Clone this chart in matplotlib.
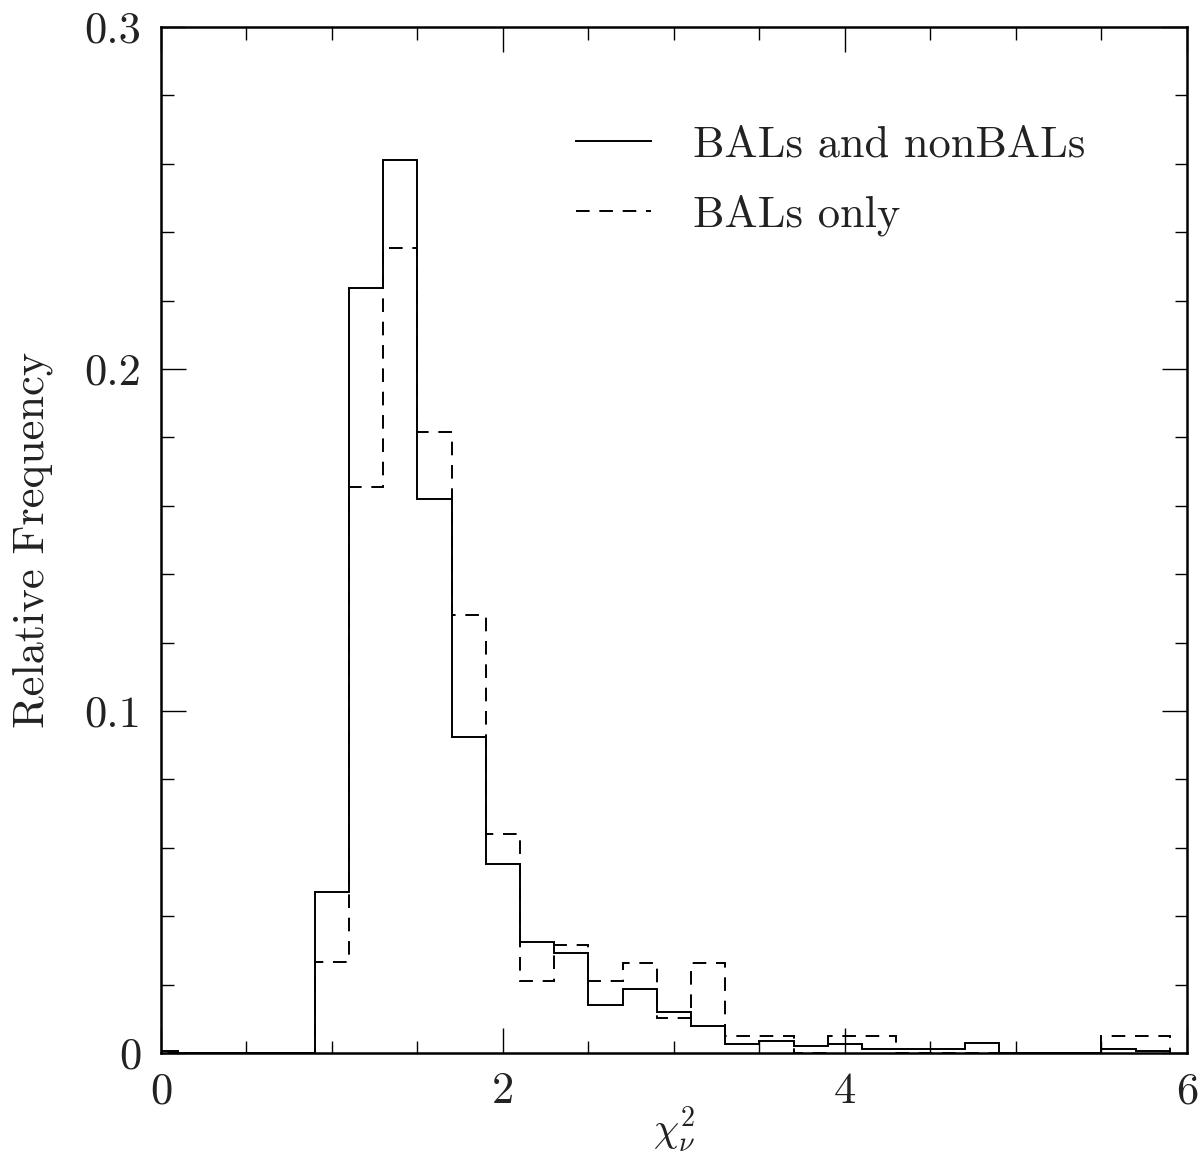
import matplotlib
matplotlib.use('Agg')
import matplotlib.pyplot as plt
import numpy as np

plt.rcParams['font.family'] = 'cmr10'
plt.rcParams['mathtext.fontset'] = 'cm'
plt.rcParams['axes.formatter.use_mathtext'] = True

# bins of width 0.2, from -0.1 to 5.9
bin_edges = np.round(np.arange(-0.1, 5.95, 0.2), 2)

all_qso = [0.0005, 0, 0, 0, 0, 0.047, 0.2237, 0.261, 0.162, 0.0924,
           0.0553, 0.0323, 0.0293, 0.0140, 0.0187, 0.0119, 0.0079, 0.0026, 0.0034, 0.0020,
           0.0027, 0.0012, 0.0011, 0.0011, 0.0028, 0, 0, 0, 0.0011, 0.0005]
bal_only = [0, 0, 0, 0, 0, 0.0266, 0.1656, 0.2353, 0.1817, 0.1282,
            0.0639, 0.0211, 0.0317, 0.0211, 0.0264, 0.0103, 0.0264, 0.005, 0.005, 0,
            0.005, 0.005, 0, 0, 0, 0, 0, 0, 0.005, 0.005]

xticks = [0, 2, 4, 6]
xticklabels = ['0', '2', '4', '6']
yticks = [0, 0.1, 0.2, 0.3]
yticklabels = ['0', '0.1', '0.2', '0.3']

txt = '#222222'
fs = 32

fig = plt.figure(figsize=(12.03, 11.59), dpi=100)
ax = fig.add_axes([0.1338, 0.0915, 0.8529, 0.8852])

ax.stairs(all_qso, bin_edges, color='black', lw=1.4, label='BALs and nonBALs')
ax.stairs(bal_only, bin_edges, color='black', lw=1.4, linestyle=(0, (7, 5)),
          label='BALs only')

ax.set_xlim(0, 6)
ax.set_ylim(0, 0.3)
ax.set_xticks(xticks, xticklabels)
ax.set_yticks(yticks, yticklabels)
ax.set_xticks(np.arange(0, 6.01, 0.5), minor=True)
ax.set_yticks(np.arange(0, 0.301, 0.02), minor=True)
ax.tick_params(which='both', direction='in', top=True, right=True, labelsize=fs,
               width=1.0, labelcolor=txt)
ax.tick_params(which='major', length=18, pad=14)
ax.tick_params(which='minor', length=9)
for s in ax.spines.values():
    s.set_linewidth(1.8)

ax.set_xlabel(r'$\chi^2_\nu$', fontsize=29, color=txt)
ax.xaxis.set_label_coords(0.5, -0.0745)
ax.xaxis.label.set_va('center')
ax.set_ylabel('Relative Frequency', fontsize=fs, color=txt)
ax.yaxis.set_label_coords(-0.105, 0.5)

leg = ax.legend(loc='upper right', bbox_to_anchor=(0.94, 0.943), frameon=False, fontsize=fs,
                handlelength=1.69, handletextpad=0.95, labelspacing=0.65)
for t in leg.get_texts():
    t.set_color(txt)

fig.savefig('out.png', dpi=100)
